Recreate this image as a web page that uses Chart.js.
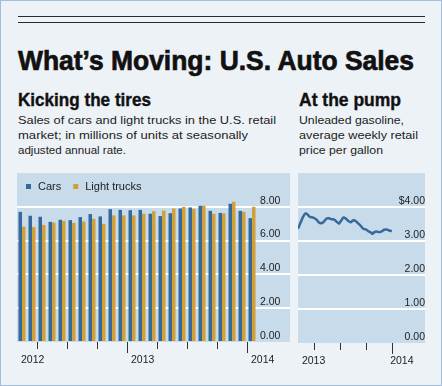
<!DOCTYPE html>
<html><head><meta charset="utf-8">
<script src="https://cdn.jsdelivr.net/npm/chart.js@4.4.1/dist/chart.umd.min.js"></script>
<style>
html,body{margin:0;padding:0;}
body{width:442px;height:386px;overflow:hidden;background:#edf2f7;position:relative;font-family:"Liberation Sans",Arial,sans-serif;color:#111;}
#frame{position:absolute;left:0;top:0;width:440px;height:384px;border:1px solid #a3bedc;}
.rule{position:absolute;left:18px;width:407px;height:1px;background:#2a2a2a;}
.t{position:absolute;white-space:nowrap;transform-origin:0 0;}
.h1{font-size:28px;line-height:28px;font-weight:bold;color:#111;-webkit-text-stroke:0.7px #111;}
.h2{font-size:19px;line-height:19px;font-weight:bold;color:#111;-webkit-text-stroke:0.4px #111;}
.d{font-size:11.5px;line-height:11.5px;color:#222;}
canvas{position:absolute;}
</style></head>
<body>
<div id="frame"></div>
<div class="rule" style="top:16px"></div>
<div class="rule" style="top:22px"></div>
<div class="t h1" style="left:18px;top:47px" data-w="396">What’s Moving: U.S. Auto Sales</div>
<div class="t h2" style="left:18px;top:90px" data-w="133">Kicking the tires</div>
<div class="t h2" style="left:299px;top:90px" data-w="102">At the pump</div>
<div class="t d" style="left:18px;top:115px" data-w="258">Sales of cars and light trucks in the U.S. retail</div>
<div class="t d" style="left:18px;top:130px" data-w="230">market; in millions of units at seasonally</div>
<div class="t d" style="left:18px;top:145px" data-w="108">adjusted annual rate.</div>
<div class="t d" style="left:299px;top:115px" data-w="105">Unleaded gasoline,</div>
<div class="t d" style="left:299px;top:130px" data-w="119">average weekly retail</div>
<div class="t d" style="left:299px;top:145px" data-w="84">price per gallon</div>
<canvas id="sales" width="300" height="220" style="left:0;top:160px;width:300px;height:220px"></canvas>
<canvas id="gas" width="152" height="220" style="left:290px;top:160px;width:152px;height:220px"></canvas>
<script>
// ---- data ----
const months = ['Feb 2012','Mar 2012','Apr 2012','May 2012','Jun 2012','Jul 2012','Aug 2012','Sep 2012','Oct 2012','Nov 2012','Dec 2012',
  'Jan 2013','Feb 2013','Mar 2013','Apr 2013','May 2013','Jun 2013','Jul 2013','Aug 2013','Sep 2013','Oct 2013','Nov 2013','Dec 2013','Jan 2014'];
const cars = [7.70,7.47,7.41,7.11,7.23,7.21,7.39,7.57,7.43,7.86,7.82,7.80,7.82,7.59,7.45,7.62,7.90,7.96,8.06,7.76,7.64,8.18,7.76,7.33];
const lightTrucks = [6.83,6.80,6.93,7.07,7.17,7.05,7.13,7.29,6.99,7.49,7.49,7.49,7.59,7.74,7.78,7.90,8.00,7.88,8.06,7.59,7.61,8.30,7.70,8.00];
const salesTickValues = [0,2,4,6,8];
const salesYearLabels = ['2012','2013','2014'];
// weekly gasoline price: day of 2013 (0 = Jan 1 2013) and $ per gallon
const gasDays = [30,40,48,57,64,72,84,96,105,116,123,132,140,150,159,167,176,183,191,200,209,217,227,235,245,254,262,272,280,290,295,302,310,319,328,336,346,354,364];
const gasPrice = [3.36,3.56,3.71,3.81,3.78,3.71,3.69,3.63,3.54,3.53,3.58,3.66,3.67,3.64,3.63,3.57,3.51,3.59,3.69,3.66,3.59,3.55,3.61,3.59,3.51,3.44,3.36,3.34,3.29,3.25,3.21,3.26,3.28,3.26,3.28,3.33,3.34,3.31,3.29];
const gasTickValues = [0,1,2,3,4];
const gasYearLabels = ['2013','2014'];
const quarterStartDays2013 = [90,181,273,365];

// ---- fit headline text widths ----
function fitText(){
  document.querySelectorAll('.t').forEach(el=>{
    el.style.transform='none';
    const w=+el.dataset.w, r=el.getBoundingClientRect().width;
    el.style.transform='scaleX('+(w/r)+')';
  });
}
fitText();

const FONT = '"Liberation Sans", Arial, sans-serif';
Chart.defaults.font.family = FONT;
Chart.defaults.color = '#222';

const PANEL = '#c7dbeb';
const BLUE = '#35689b';
const GOLD = '#d3a036';
const NONE = 'rgba(0,0,0,0)';

const panelBg = {
  id:'panelBg',
  beforeDraw(chart, args, opts){
    const a = chart.chartArea, c = chart.ctx;
    c.save(); c.fillStyle = opts.color;
    c.fillRect(a.left, a.top, a.right - a.left + (opts.extendRight||0), a.bottom - a.top);
    c.restore();
  }
};
const insideLegend = {
  id:'insideLegend',
  afterDraw(chart, args, opts){
    if(!opts.display) return;
    const c = chart.ctx, a = chart.chartArea;
    c.save();
    c.font = opts.fontSize + 'px ' + FONT;
    c.textBaseline = 'alphabetic';
    let x = a.left + opts.x;
    const y = a.top + opts.y;
    chart.data.datasets.forEach(ds=>{
      c.fillStyle = ds.backgroundColor;
      c.fillRect(x, y - opts.box, opts.box, opts.box);
      c.fillStyle = '#222';
      const tx = x + opts.box + opts.textGap;
      c.fillText(ds.label, tx, y + 0.5);
      x = tx + c.measureText(ds.label).width + opts.itemGap;
    });
    c.restore();
  }
};
Chart.register(panelBg, insideLegend);

// quarter boundaries on the month axis (index where each category starts)
const quarterIdx = [], yearIdx = [];
months.forEach((m,i)=>{ const mo=m.slice(0,3); if(['Jan','Apr','Jul','Oct'].includes(mo)) quarterIdx.push(i); if(mo==='Jan') yearIdx.push(i); });
// year labels sit just right of the year start (or of the axis start for the first year)
const salesLabelTicks = new Map();
[0].concat(yearIdx).forEach((idx,k)=> salesLabelTicks.set(idx + 0.4, salesYearLabels[k]));

new Chart(document.getElementById('sales'), {
  type:'bar',
  data:{labels:months, datasets:[
    {label:'Cars', data:cars, backgroundColor:BLUE, borderWidth:0, categoryPercentage:0.7, barPercentage:1, xAxisID:'x', yAxisID:'y'},
    {label:'Light trucks', data:lightTrucks, backgroundColor:GOLD, borderWidth:0, categoryPercentage:0.7, barPercentage:1, xAxisID:'x', yAxisID:'y'}
  ]},
  options:{
    responsive:false, animation:false, devicePixelRatio:1,
    layout:{padding:{left:17, top:13, right:10, bottom:0}},
    plugins:{
      legend:{display:false}, tooltip:{enabled:false},
      panelBg:{color:PANEL, extendRight:33},
      insideLegend:{display:true, x:9, y:16, box:5, textGap:7, itemGap:12, fontSize:11}
    },
    scales:{
      x:{type:'category', display:false, offset:true},
      xq:{type:'linear', position:'bottom', min:0, max:months.length, offset:false,
        afterFit(s){ s.height = 38; },
        afterBuildTicks(s){
          const vals = quarterIdx.concat([...salesLabelTicks.keys()]).sort((a,b)=>a-b);
          s.ticks = vals.map(v=>({value:v}));
        },
        grid:{offset:false, drawOnChartArea:false, tickLength:11, tickWidth:1,
          tickColor:(ctx)=> ctx.tick && salesLabelTicks.has(ctx.tick.value) ? NONE : '#333',
          tickBorderDash:(ctx)=> ctx.tick && yearIdx.includes(ctx.tick.value) ? [] : [7,30]},
        border:{display:false},
        ticks:{align:'start', labelOffset:0, padding:1, maxRotation:0, minRotation:0, autoSkip:false,
          font:{size:10.5}, color:'#222',
          callback:(v)=> salesLabelTicks.get(v) || ''}
      },
      y:{position:'right', min:0, max:10,
        afterFit(s){ s.width = 33; },
        afterBuildTicks(s){ s.ticks = salesTickValues.concat([10]).map(v=>({value:v})); },
        grid:{lineWidth:2, tickLength:33,
          color:(ctx)=> (ctx.tick && (ctx.tick.value===10 || ctx.tick.value===0)) ? NONE : '#ffffff',
          tickColor:(ctx)=> (ctx.tick && (ctx.tick.value===10 || ctx.tick.value===0)) ? NONE : '#ffffff'},
        border:{display:false},
        ticks:{padding:-30, labelOffset:-6, crossAlign:'near', font:{size:10.5}, color:'#222',
          callback:(v)=> salesTickValues.includes(v) ? v.toFixed(2) : ''}
      }
    }
  }
});

const gasLabelTicks = new Map([[44, gasYearLabels[0]], [358, gasYearLabels[1]]]);
new Chart(document.getElementById('gas'), {
  type:'line',
  data:{datasets:[{label:'Unleaded gasoline', data:gasDays.map((d,i)=>({x:d, y:gasPrice[i]})),
    borderColor:BLUE, borderWidth:2.5, pointRadius:0, tension:0.25, fill:false}]},
  options:{
    responsive:false, animation:false, devicePixelRatio:1,
    layout:{padding:{left:8, top:13, right:17, bottom:0}},
    plugins:{legend:{display:false}, tooltip:{enabled:false},
      panelBg:{color:PANEL, extendRight:27}, insideLegend:{display:false}},
    scales:{
      x:{type:'linear', position:'bottom', min:30, max:386, offset:false,
        afterFit(s){ s.height = 37; },
        afterBuildTicks(s){
          const vals = [...gasLabelTicks.keys()].concat(quarterStartDays2013).sort((a,b)=>a-b);
          s.ticks = vals.map(v=>({value:v}));
        },
        grid:{offset:false, drawOnChartArea:false, tickLength:11, tickWidth:1,
          tickColor:(ctx)=> ctx.tick && gasLabelTicks.has(ctx.tick.value) ? NONE : '#333',
          tickBorderDash:(ctx)=> ctx.tick && ctx.tick.value===365 ? [] : [7,30]},
        border:{display:false},
        ticks:{align:'start', padding:1, maxRotation:0, minRotation:0, autoSkip:false, font:{size:10.5}, color:'#222',
          callback:(v)=> gasLabelTicks.get(v) || ''}
      },
      y:{position:'right', min:0, max:5,
        afterFit(s){ s.width = 27; },
        afterBuildTicks(s){ s.ticks = gasTickValues.concat([5]).map(v=>({value:v})); },
        grid:{lineWidth:2, tickLength:27,
          color:(ctx)=> (ctx.tick && (ctx.tick.value===5 || ctx.tick.value===0)) ? NONE : '#ffffff',
          tickColor:(ctx)=> (ctx.tick && (ctx.tick.value===5 || ctx.tick.value===0)) ? NONE : '#ffffff'},
        border:{display:false},
        ticks:{padding:-30, labelOffset:-6, crossAlign:'far', font:{size:10.5}, color:'#222',
          callback:(v)=> gasTickValues.includes(v) ? (v===4 ? '$' : '') + v.toFixed(2) : ''}
      }
    }
  }
});
</script>
</body></html>
